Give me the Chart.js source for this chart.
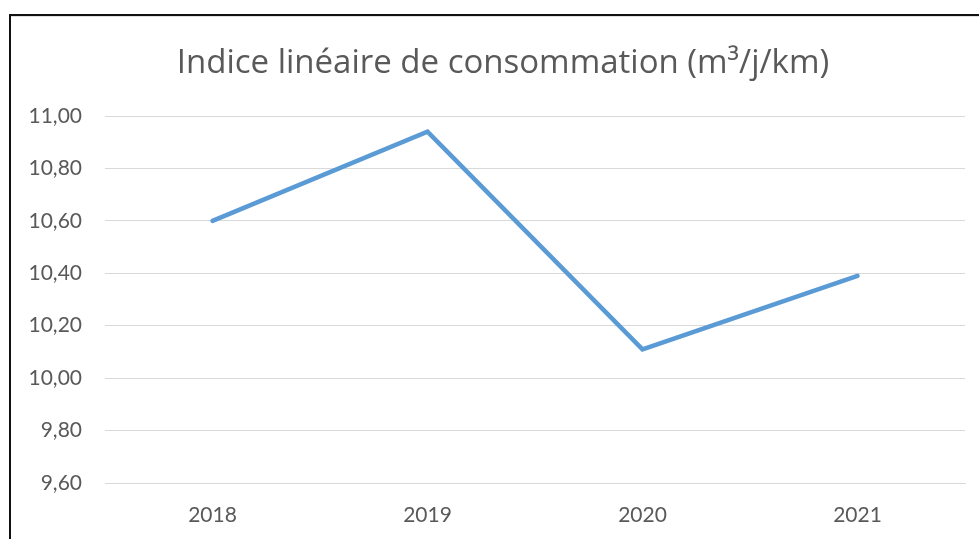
<!DOCTYPE html>
<html>
<head>
<meta charset="utf-8">
<script src="https://cdn.jsdelivr.net/npm/chart.js@4"></script>
<style>
    html, body { margin: 0; padding: 0; background: #ffffff; overflow: hidden; }
    #frame {
        position: absolute;
        left: 9px;
        top: 14px;
        width: 1000px;
        height: 600px;
        border: 2px solid #111111;
        box-shadow: inset 0 1px 0 #e0e0e0;
    }
    #wrap {
        position: absolute;
        left: 12px;
        top: 17px;
        width: 982px;
        height: 522px;
    }
</style>
</head>
<body>
<div id="frame"></div>
<div id="wrap"><canvas id="chart"></canvas></div>
<script>
// Chart data
const years = ["2018", "2019", "2020", "2021"];
const indexValues = [10.60, 10.94, 10.11, 10.39];
const chartTitle = "Indice linéaire de consommation (m³/j/km)";

document.addEventListener("DOMContentLoaded", function() {
    const ctx = document.getElementById("chart").getContext("2d");
    new Chart(ctx, {
        type: "line",
        data: {
            labels: years,
            datasets: [{
                label: "Indice",
                data: indexValues,
                yAxisID: "y",
                borderColor: "#5b9bd5",
                borderWidth: 4.5,
                borderCapStyle: "round",
                borderJoinStyle: "miter",
                pointRadius: 0,
                tension: 0,
                fill: false
            }]
        },
        options: {
            responsive: true,
            maintainAspectRatio: false,
            animation: false,
            layout: { padding: 0 },
            plugins: {
                legend: { display: false },
                tooltip: { enabled: false },
                title: {
                    display: true,
                    text: chartTitle,
                    color: "#595959",
                    font: { family: "Open Sans", size: 33, weight: "normal" },
                    padding: { top: 27, bottom: 32.4 }
                }
            },
            scales: {
                x: {
                    offset: true,
                    grid: { display: false, drawTicks: false },
                    border: { display: true, color: "#d9d9d9", width: 1 },
                    ticks: {
                        color: "#595959",
                        font: { family: "Lato", size: 21 },
                        padding: 20
                    },
                    afterFit: function(scale) { scale.height = 56; }
                },
                y: {
                    min: 9.6,
                    max: 11,
                    grid: { color: "#d9d9d9", drawTicks: false },
                    border: { display: false },
                    ticks: {
                        stepSize: 0.2,
                        color: "#595959",
                        font: { family: "Lato", size: 21 },
                        padding: 23,
                        callback: value => value.toFixed(2).replace(".", ",")
                    },
                    afterFit: function(scale) { scale.width = 93; }
                },
                // empty right-hand spacer so the title sits centred like the original
                spacer: {
                    type: "linear",
                    position: "right",
                    min: 0,
                    max: 1,
                    grid: { display: false, drawTicks: false },
                    border: { display: false },
                    ticks: { display: false },
                    afterFit: function(scale) { scale.width = 29; }
                }
            }
        }
    });
});
</script>
</body>
</html>
